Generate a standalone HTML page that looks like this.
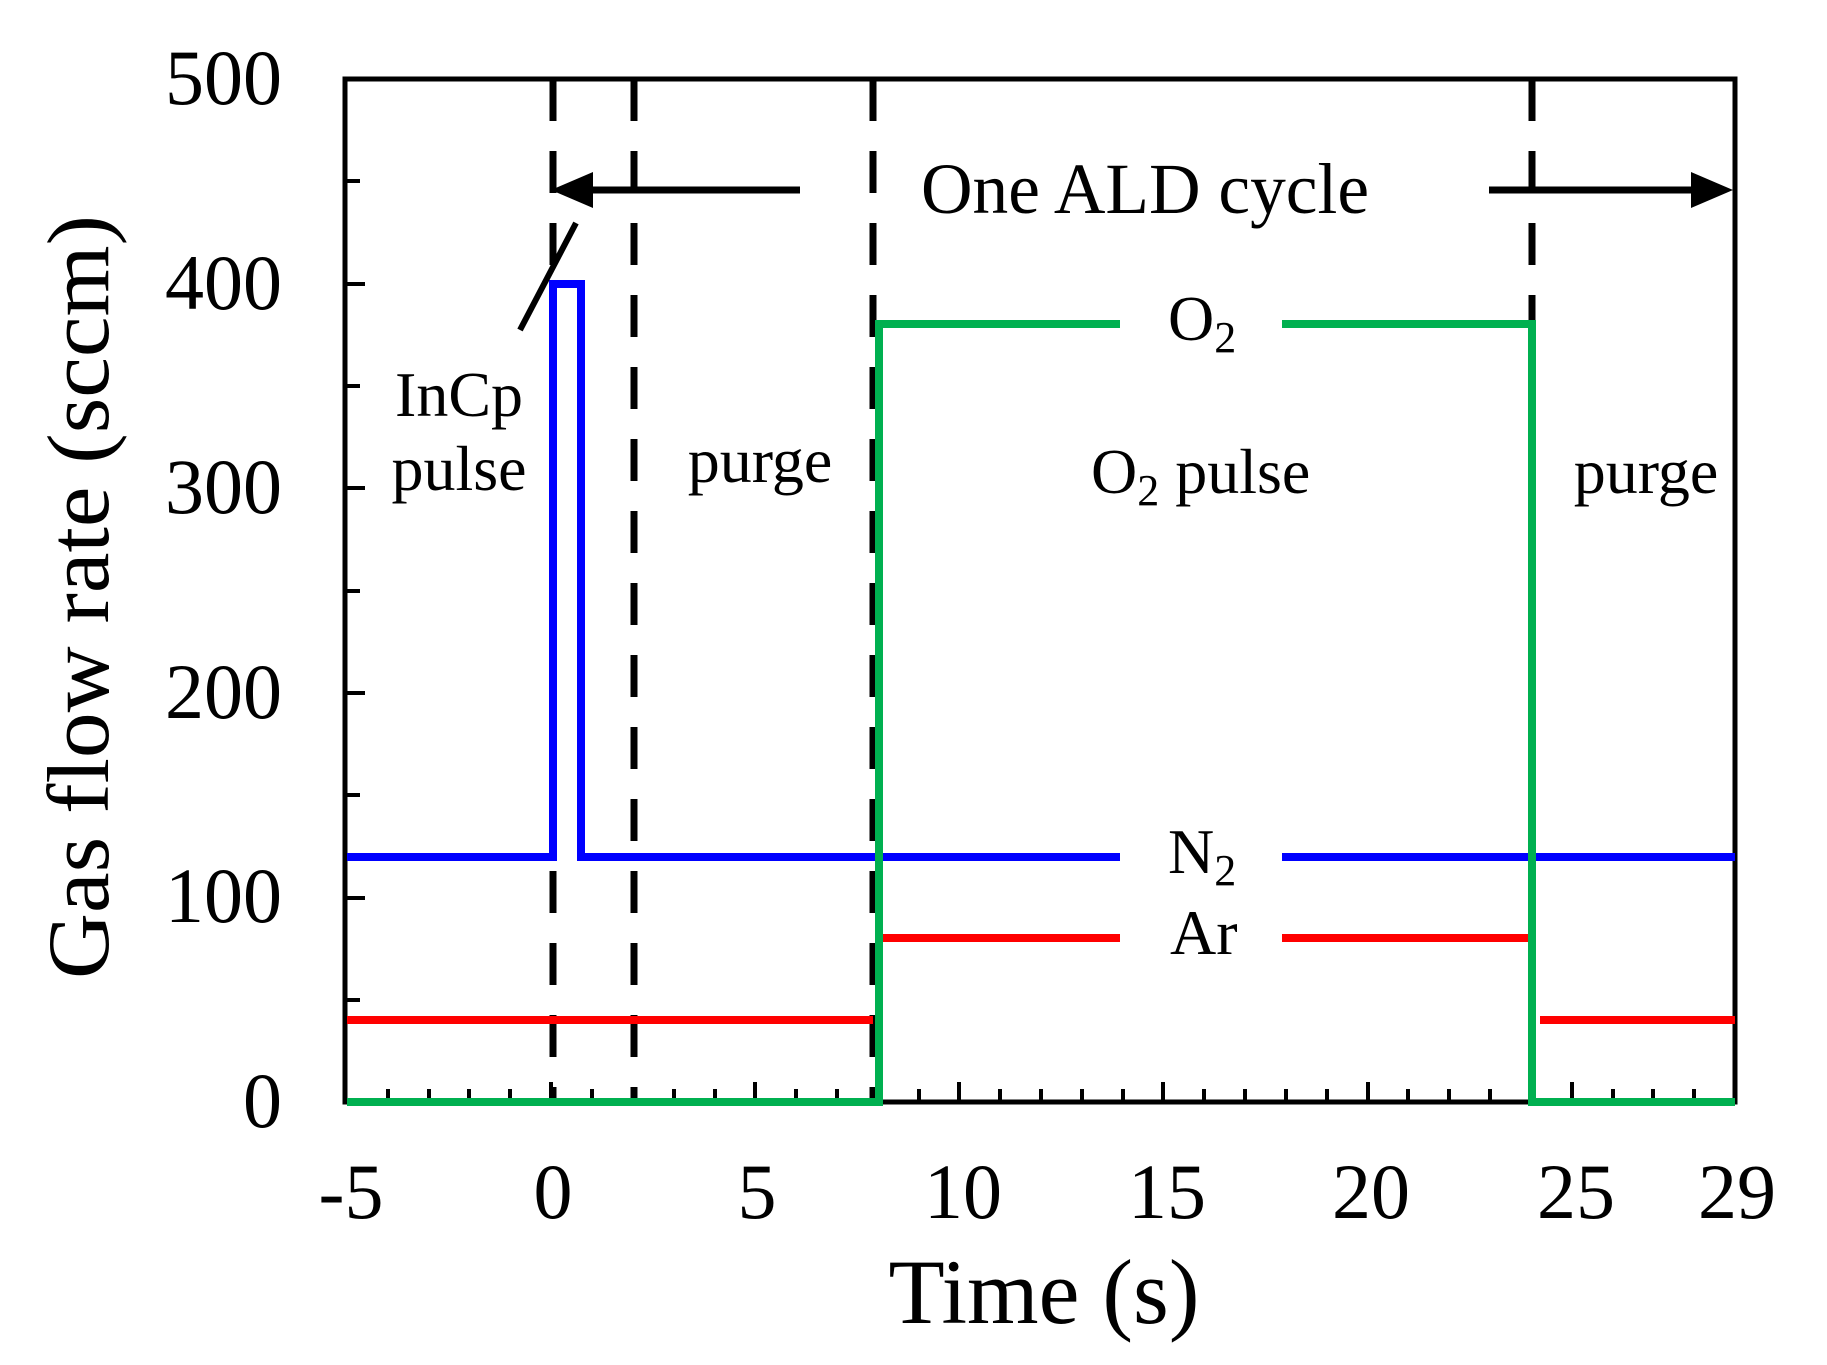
<!DOCTYPE html>
<html><head><meta charset="utf-8"><style>html,body{margin:0;padding:0;background:#fff}svg{display:block}</style></head>
<body>
<svg width="1827" height="1365" viewBox="0 0 1827 1365" xmlns="http://www.w3.org/2000/svg" font-family="'Liberation Serif', serif">
<g stroke="#000" stroke-width="4">
<line x1="345" y1="1000" x2="360" y2="1000"/><line x1="345" y1="898" x2="365" y2="898"/>
<line x1="345" y1="795" x2="360" y2="795"/><line x1="345" y1="693" x2="365" y2="693"/>
<line x1="345" y1="591" x2="360" y2="591"/><line x1="345" y1="488" x2="365" y2="488"/>
<line x1="345" y1="386" x2="360" y2="386"/><line x1="345" y1="284" x2="365" y2="284"/>
<line x1="345" y1="181" x2="360" y2="181"/>
</g>
<g stroke="#000" stroke-width="4">
<line x1="388" y1="1102" x2="388" y2="1089"/><line x1="429" y1="1102" x2="429" y2="1089"/><line x1="469" y1="1102" x2="469" y2="1089"/><line x1="510" y1="1102" x2="510" y2="1089"/><line x1="551" y1="1102" x2="551" y2="1082"/>
<line x1="592" y1="1102" x2="592" y2="1089"/><line x1="633" y1="1102" x2="633" y2="1089"/><line x1="674" y1="1102" x2="674" y2="1089"/><line x1="715" y1="1102" x2="715" y2="1089"/><line x1="755" y1="1102" x2="755" y2="1082"/>
<line x1="796" y1="1102" x2="796" y2="1089"/><line x1="837" y1="1102" x2="837" y2="1089"/><line x1="878" y1="1102" x2="878" y2="1089"/><line x1="919" y1="1102" x2="919" y2="1089"/><line x1="959" y1="1102" x2="959" y2="1082"/>
<line x1="1000" y1="1102" x2="1000" y2="1089"/><line x1="1041" y1="1102" x2="1041" y2="1089"/><line x1="1082" y1="1102" x2="1082" y2="1089"/><line x1="1123" y1="1102" x2="1123" y2="1089"/><line x1="1163" y1="1102" x2="1163" y2="1082"/>
<line x1="1204" y1="1102" x2="1204" y2="1089"/><line x1="1245" y1="1102" x2="1245" y2="1089"/><line x1="1286" y1="1102" x2="1286" y2="1089"/><line x1="1327" y1="1102" x2="1327" y2="1089"/><line x1="1368" y1="1102" x2="1368" y2="1082"/>
<line x1="1408" y1="1102" x2="1408" y2="1089"/><line x1="1449" y1="1102" x2="1449" y2="1089"/><line x1="1490" y1="1102" x2="1490" y2="1089"/><line x1="1531" y1="1102" x2="1531" y2="1089"/><line x1="1572" y1="1102" x2="1572" y2="1082"/>
<line x1="1613" y1="1102" x2="1613" y2="1089"/><line x1="1653" y1="1102" x2="1653" y2="1089"/><line x1="1694" y1="1102" x2="1694" y2="1089"/>
</g>
<rect x="345" y="79" width="1390" height="1023" fill="none" stroke="#000" stroke-width="5"/>
<g stroke="#000" stroke-width="7" stroke-dasharray="42 30">
<line x1="553" y1="79" x2="553" y2="1102"/>
<line x1="634" y1="79" x2="634" y2="1102"/>
<line x1="873" y1="79" x2="873" y2="1102"/>
<line x1="1532" y1="79" x2="1532" y2="1102"/>
</g>
<g fill="none" stroke-width="8" stroke-linejoin="miter">
<polyline stroke="#0000ff" points="347,857 553,857 553,284 581,284 581,857 1120,857"/>
<polyline stroke="#0000ff" points="1282,857 1735,857"/>
<polyline stroke="#ff0000" points="347,1020 873,1020"/>
<polyline stroke="#ff0000" points="879,938 1120,938"/>
<polyline stroke="#ff0000" points="1282,938 1532,938"/>
<polyline stroke="#ff0000" points="1540,1020 1735,1020"/>
<polyline stroke="#00b050" points="347,1102 879,1102 879,324 1120,324"/>
<polyline stroke="#00b050" points="1282,324 1532,324 1532,1102 1735,1102"/>
</g>
<g stroke="#000" stroke-width="7">
<line x1="590" y1="190" x2="800" y2="190"/>
<line x1="1489" y1="190" x2="1695" y2="190"/>
<line x1="520" y1="330" x2="576" y2="223" stroke-width="6"/>
</g>
<polygon points="551,190 593,172 593,208" fill="#000"/>
<polygon points="1733,190 1691,172 1691,208" fill="#000"/>
<g font-size="78" fill="#000" text-anchor="end">
<text x="282" y="104">500</text><text x="282" y="309">400</text><text x="282" y="513">300</text>
<text x="282" y="718">200</text><text x="282" y="922">100</text><text x="282" y="1127">0</text>
</g>
<g font-size="78" fill="#000" text-anchor="middle">
<text x="351" y="1218">-5</text><text x="553" y="1218">0</text><text x="757" y="1218">5</text>
<text x="963" y="1218">10</text><text x="1167" y="1218">15</text><text x="1371" y="1218">20</text>
<text x="1576" y="1218">25</text><text x="1737" y="1218">29</text>
</g>
<text x="1044" y="1323" font-size="92" text-anchor="middle">Time (s)</text>
<text transform="translate(108,597) rotate(-90)" font-size="88" text-anchor="middle" textLength="764" lengthAdjust="spacingAndGlyphs">Gas flow rate (sccm)</text>
<g font-size="64" fill="#000">
<text x="921" y="213" font-size="72" textLength="448" lengthAdjust="spacingAndGlyphs">One ALD cycle</text>
<text x="1168" y="340">O<tspan font-size="44" dy="12">2</tspan></text>
<text x="1168" y="873">N<tspan font-size="44" dy="12">2</tspan></text>
<text x="1170" y="954">Ar</text>
<text x="459" y="416" text-anchor="middle">InCp</text>
<text x="459" y="490" text-anchor="middle">pulse</text>
<text x="760" y="482" text-anchor="middle">purge</text>
<text x="1646" y="493" text-anchor="middle">purge</text>
<text x="1091" y="493">O<tspan font-size="44" dy="12">2</tspan><tspan dy="-12"> pulse</tspan></text>
</g>
</svg>
</body></html>
